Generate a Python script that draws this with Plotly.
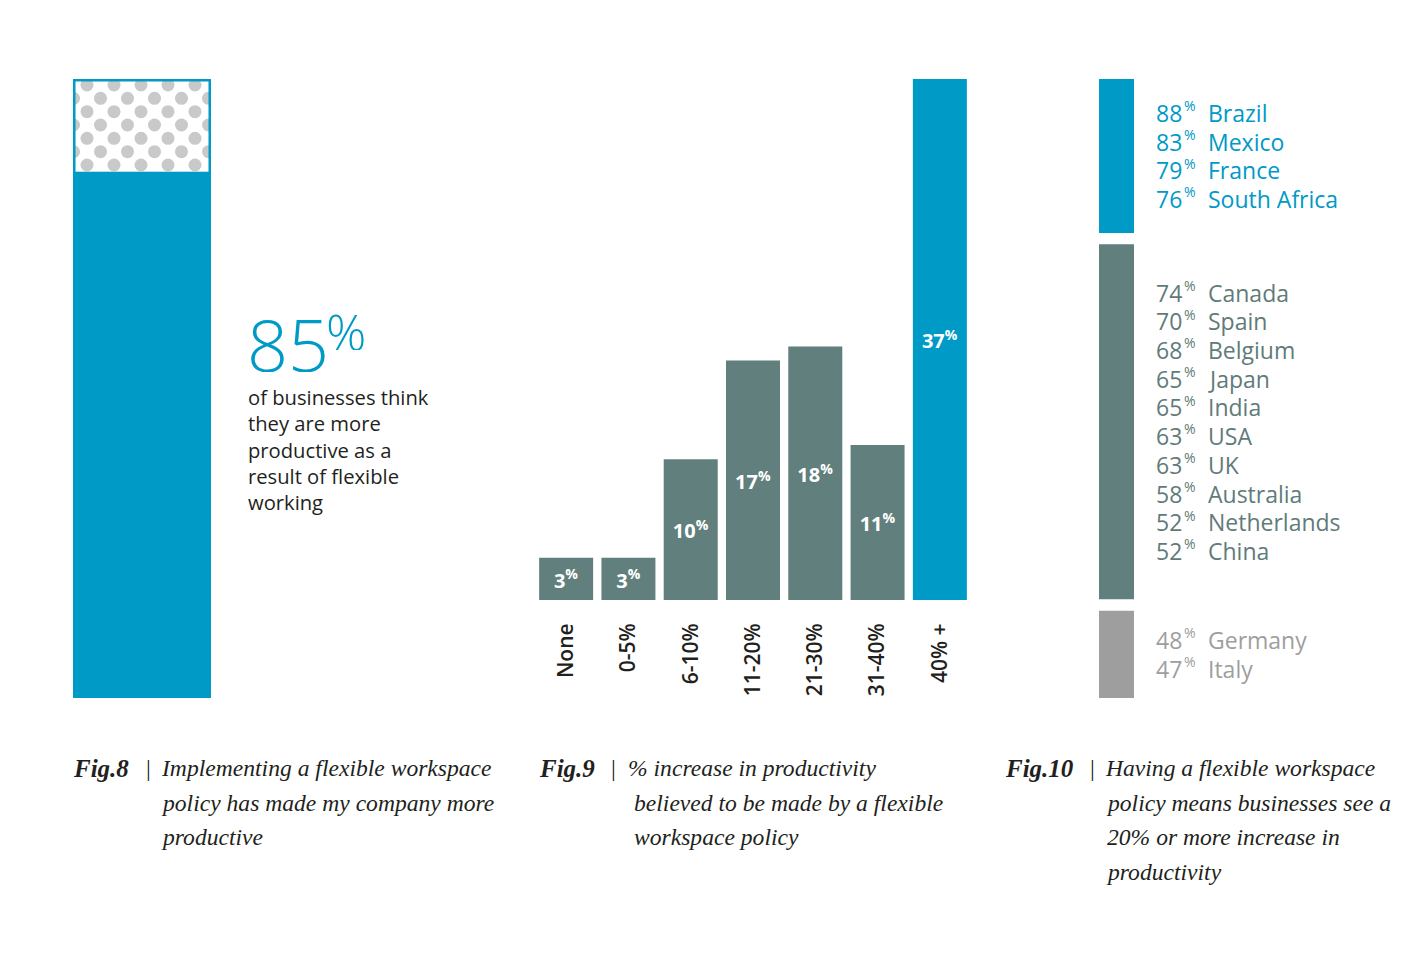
import numpy as np
import plotly.graph_objects as go

BLUE = "#009ac6"
TEAL = "#617f7d"
GREY = "#9e9e9e"
DOT = "#c9c9c9"
INK = "#231f20"
SANS = "Open Sans"
SERIF = "Liberation Serif"

# ---------------- data ----------------
# Fig 8
fig8_labels = ["More productive", "Not more productive"]
fig8_values = [85, 15]
fig8_text = ["of businesses think", "they are more", "productive as a", "result of flexible", "working"]

# Fig 9
fig9_categories = ["None", "0-5%", "6-10%", "11-20%", "21-30%", "31-40%", "40% +"]
fig9_values = [3, 3, 10, 17, 18, 11, 37]

# Fig 10
fig10_countries = ["Brazil", "Mexico", "France", "South Africa", "Canada", "Spain",
                   "Belgium", "Japan", "India", "USA", "UK", "Australia",
                   "Netherlands", "China", "Germany", "Italy"]
fig10_values = [88, 83, 79, 76, 74, 70, 68, 65, 65, 63, 63, 58, 52, 52, 48, 47]

captions = {
    "Fig.8": ["Implementing a flexible workspace", "policy has made my company more", "productive"],
    "Fig.9": ["% increase in productivity", "believed to be made by a flexible", "workspace policy"],
    "Fig.10": ["Having a flexible workspace", "policy means businesses see a",
               "20% or more increase in", "productivity"],
}

# ---------------- layout helpers ----------------
W, H = 1426, 968
def px(x):
    return x / W
def py(y):
    return 1 - y / H

TOP, BOT = 79, 698
BASE9 = 600
fig = go.Figure()

# ---------------- Fig 8 ----------------
fig.add_trace(go.Bar(x=[0], y=[fig8_values[0]], base=[0], width=1,
                     marker=dict(color=BLUE, line=dict(width=0)),
                     name=fig8_labels[0], xaxis="x", yaxis="y", hoverinfo="skip"))
fig.add_trace(go.Bar(x=[0], y=[fig8_values[1]], base=[fig8_values[0]], width=1,
                     marker=dict(color="white", line=dict(width=0)),
                     name=fig8_labels[1], xaxis="x", yaxis="y", hoverinfo="skip"))

# decorative polka-dot lattice filling the "not more productive" segment
bx0, bx1 = 73, 211
ppu = (BOT - TOP) / 100.0
seg_bot = TOP + fig8_values[1] * ppu
dx, dy, r = 27.0, 13.33, 6.5
dots_x, dots_y = [], []
row = 0
yy = TOP + 6
while yy <= seg_bot - r + 0.5:
    start = 87 if row % 2 == 0 else 87 - dx / 2
    xx = start - dx * 3
    while xx < bx1 + r:
        if xx > bx0 - r:
            dots_x.append(-0.5 + (xx - bx0) / (bx1 - bx0))
            dots_y.append(100 - (yy - TOP) / ppu)
        xx += dx
    yy += dy
    row += 1
fig.add_trace(go.Scatter(x=dots_x, y=dots_y, mode="markers",
                         marker=dict(size=2 * r, color=DOT, line=dict(width=0)),
                         xaxis="x", yaxis="y", hoverinfo="skip"))

# ---------------- Fig 9 ----------------
fig9_colors = [BLUE if v == max(fig9_values) else TEAL for v in fig9_values]
fig.add_trace(go.Bar(x=fig9_categories, y=fig9_values, marker=dict(color=fig9_colors, line=dict(width=0)),
                     text=[f"{v}<sup>%</sup>" for v in fig9_values],
                     textposition="inside", insidetextanchor="middle", textangle=0,
                     constraintext="none",
                     textfont=dict(color="white", size=20, family=SANS, weight="bold"),
                     xaxis="x2", yaxis="y2", hoverinfo="skip"))

# ---------------- Fig 10 ----------------
groups = [0 if v >= 75 else (1 if v >= 50 else 2) for v in fig10_values]
group_colors = [BLUE, TEAL, GREY]
group_text = [BLUE, "#5f7b7a", GREY]
group_pad = [1.18, 1.68, 1.02]
gap = 0.4
row_pos = []
cursor = 0.0
seg = []
for g in range(3):
    idx = [i for i, gg in enumerate(groups) if gg == g]
    start = cursor
    for k, i in enumerate(idx):
        row_pos.append(start + group_pad[g] + k)
    end = start + group_pad[g] * 2 + (len(idx) - 1)
    seg.append((start, end))
    cursor = end + gap
total = seg[-1][1]
for g in range(3):
    fig.add_trace(go.Bar(x=[0], y=[seg[g][1] - seg[g][0]], base=[seg[g][0]], width=1,
                         marker=dict(color=group_colors[g], line=dict(width=0)),
                         xaxis="x3", yaxis="y3", hoverinfo="skip"))

annotations = []
for i, (c, v) in enumerate(zip(fig10_countries, fig10_values)):
    col = group_text[groups[i]]
    annotations.append(dict(
        x=px(1154), xref="paper", y=row_pos[i], yref="y3", xanchor="left", yanchor="middle",
        text=f"{v}", showarrow=False, font=dict(family=SANS, size=23, color=col)))
    annotations.append(dict(
        x=px(1181.5), xref="paper", y=row_pos[i] - 0.25, yref="y3", xanchor="left", yanchor="middle",
        text="%", showarrow=False, font=dict(family=SANS, size=14, color=col)))
    annotations.append(dict(
        x=px(1206), xref="paper", y=row_pos[i], yref="y3", xanchor="left", yanchor="middle",
        text=c, showarrow=False, font=dict(family=SANS, size=23, color=col)))

# Fig 8 headline + text
annotations.append(dict(x=px(245), xref="paper", y=py(344), yref="paper", xanchor="left", yanchor="middle",
                        text=f"{fig8_values[0]}", showarrow=False, height=56,
                        font=dict(family=SANS, size=72, color=BLUE, weight=300)))
annotations.append(dict(x=px(324), xref="paper", y=py(332), yref="paper", xanchor="left", yanchor="middle",
                        text="%", showarrow=False, height=36,
                        font=dict(family=SANS, size=50, color=BLUE, weight=300)))
annotations.append(dict(x=px(246), xref="paper", y=py(381), yref="paper", xanchor="left", yanchor="top",
                        text="<br>".join(fig8_text), align="left", showarrow=False,
                        font=dict(family=SANS, size=20.2, color=INK)))

# captions
cap_pos = {"Fig.8": (71, 148, [159, 159, 159]),
           "Fig.9": (537, 613, [626, 632, 632]),
           "Fig.10": (1003, 1092, [1103, 1104, 1105, 1104])}
line_y = [768, 803, 837, 872]
for key, lines in captions.items():
    fx, bx, lx = cap_pos[key]
    annotations.append(dict(x=px(fx), xref="paper", y=py(line_y[0]), yref="paper",
                            xanchor="left", yanchor="middle", showarrow=False,
                            text=f"<b><i>{key}</i></b>",
                            font=dict(family=SERIF, size=25, color=INK)))
    annotations.append(dict(x=px(bx), xref="paper", y=py(line_y[0]), yref="paper",
                            xanchor="center", yanchor="middle", showarrow=False,
                            text="|", font=dict(family=SERIF, size=24, color=INK)))
    for j, t in enumerate(lines):
        annotations.append(dict(x=px(lx[j]), xref="paper", y=py(line_y[j]), yref="paper",
                                xanchor="left", yanchor="middle", showarrow=False,
                                text=f"<i>{t}</i>",
                                font=dict(family=SERIF, size=23.6, color=INK)))

shapes = [dict(type="rect", xref="x", yref="y", x0=-0.5, x1=0.5,
               y0=fig8_values[0] - 0.4, y1=100, line=dict(color=BLUE, width=5),
               fillcolor="rgba(0,0,0,0)", layer="above")]

dom_y = [py(BOT), py(TOP)]
fig.update_layout(
    width=W, height=H, margin=dict(l=0, r=0, t=0, b=0),
    paper_bgcolor="white", plot_bgcolor="white",
    showlegend=False, barmode="overlay", bargap=0.133,
    xaxis=dict(domain=[px(73), px(211)], range=[-0.5, 0.5], visible=False, fixedrange=True),
    yaxis=dict(domain=dom_y, range=[0, 100], visible=False, fixedrange=True),
    xaxis2=dict(domain=[px(535), px(971)], anchor="y2", type="category",
                showgrid=False, showline=False, zeroline=False,
                ticks="outside", ticklen=14, tickcolor="rgba(0,0,0,0)",
                tickangle=-90, tickfont=dict(family=SANS, size=21, color=INK, weight=600), fixedrange=True),
    yaxis2=dict(domain=[py(BASE9), py(TOP)], anchor="x2", range=[0, max(fig9_values)],
                visible=False, fixedrange=True),
    xaxis3=dict(domain=[px(1099), px(1134)], anchor="y3", range=[-0.5, 0.5], visible=False, fixedrange=True),
    yaxis3=dict(domain=dom_y, anchor="x3", range=[total, 0], visible=False, fixedrange=True),
    annotations=annotations, shapes=shapes,
)

fig.write_html("out.html", config={"displayModeBar": False},
               post_script="document.body.style.margin='0';document.body.style.overflow='hidden';")
